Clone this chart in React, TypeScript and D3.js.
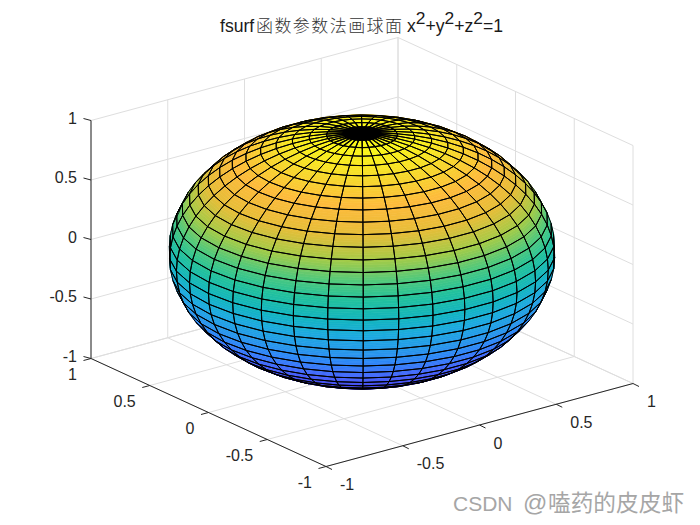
import React from 'react';
import * as d3 from 'd3';

// axis ticks, same on all three axes
const ticks = [-1, -0.5, 0, 0.5, 1];
const tickLabels = ['-1', '-0.5', '0', '0.5', '1'];

// parameter values of the mesh lines, in degrees
const longitudes = [
  0, 10.59, 21.18, 31.76, 42.35, 52.94, 63.53, 74.12, 84.71, 95.29, 105.88, 116.47,
  127.06, 137.65, 148.24, 158.82, 169.41, 180, 190.59, 201.18, 211.76, 222.35, 232.94,
  243.53, 254.12, 264.71, 275.29, 285.88, 296.47, 307.06, 317.65, 328.24, 338.82, 349.41, 360,
];
const latitudes = [
  -90, -84.71, -79.41, -74.12, -68.82, -63.53, -58.24, -52.94, -47.65, -42.35, -37.06,
  -31.76, -26.47, -21.18, -15.88, -10.59, -5.29, 0, 5.29, 10.59, 15.88, 21.18, 26.47,
  31.76, 37.06, 42.35, 47.65, 52.94, 58.24, 63.53, 68.82, 74.12, 79.41, 84.71, 90,
];

// parula
const colorStops = [0, 0.1, 0.2, 0.3, 0.35, 0.43, 0.5, 0.58, 0.65, 0.72, 0.8, 0.88, 0.94, 1];
const colorValues = [
  '#3e26a8', '#4741e5', '#4563fc', '#2d88f6', '#2796eb', '#1caadf', '#12b5bf', '#22c19c',
  '#52c97a', '#a3cb48', '#e6bd38', '#fdbb3c', '#f7d82d', '#f9fb15',
];

const width = 700;
const height = 525;

// screen offsets of one axis unit
const cx = 362;
const cy = 252;
const xToX = d3.scaleLinear().domain([-1, 1]).range([-153.5, 153.5]);
const xToY = d3.scaleLinear().domain([-1, 1]).range([41.5, -41.5]);
const yToX = d3.scaleLinear().domain([-1, 1]).range([117.5, -117.5]);
const yToY = d3.scaleLinear().domain([-1, 1]).range([54, -54]);
const zToY = d3.scaleLinear().domain([-1, 1]).range([119, -119]);

type P3 = [number, number, number];

const project = ([x, y, z]: P3): [number, number] => [
  cx + xToX(x) + yToX(y),
  cy + xToY(x) + yToY(y) + zToY(z),
];

const color = d3.scaleLinear<string>().domain(colorStops).range(colorValues).clamp(true);
const zToColor = d3.scaleLinear().domain([-1, 1]).range([0, 1]);

const view: P3 = [-0.527, -0.689, 0.496];
const rad = (d: number) => (d * Math.PI) / 180;
const spherePoint = (lon: number, lat: number): P3 => [
  Math.cos(rad(lat)) * Math.cos(rad(lon)),
  Math.cos(rad(lat)) * Math.sin(rad(lon)),
  Math.sin(rad(lat)),
];
const mix = (a: P3, b: P3, t: number): P3 => [
  a[0] + (b[0] - a[0]) * t,
  a[1] + (b[1] - a[1]) * t,
  a[2] + (b[2] - a[2]) * t,
];

const line3 = d3.line<P3>().x(d => project(d)[0]).y(d => project(d)[1]);
const closed = (pts: P3[]) => line3(pts) + 'Z';

// visible mesh cells
const cells: { corners: P3[]; depth: number; topLat: number }[] = [];
d3.pairs(longitudes).forEach(([lon0, lon1]) => {
  d3.pairs(latitudes).forEach(([lat0, lat1]) => {
    const corners = [
      spherePoint(lon0, lat0),
      spherePoint(lon1, lat0),
      spherePoint(lon1, lat1),
      spherePoint(lon0, lat1),
    ];
    const mid = spherePoint((lon0 + lon1) / 2, (lat0 + lat1) / 2);
    const depth = d3.sum(mid, (v, i) => v * view[i]);
    if (depth > -0.04) cells.push({ corners, depth, topLat: lat1 });
  });
});
cells.sort((a, b) => a.depth - b.depth);

const strips = [0, 0.2, 0.4, 0.6, 0.8];
const stripStep = 0.2;

const axisColor = '#262626';
const gridColor = '#dedede';
const labelFont = '"Liberation Sans", Arial, sans-serif';
const cjkFont = '"Noto Sans CJK SC", sans-serif';

const seg = (a: P3, b: P3, stroke: string, key: string) => (
  <path key={key} d={line3([a, b]) as string} stroke={stroke} strokeWidth={1} fill="none" />
);

const tickEnd = (p: [number, number], dx: number, dy: number): [number, number] => [p[0] + dx, p[1] + dy];

// the mesh closes up around the pole, so lines there run together
const meshWidth = (topLat: number) => (topLat === 90 ? 2.4 : topLat > 84 ? 1.2 : 1);

const App: React.FC = () => {
  return (
    <svg
      width={width}
      height={height}
      viewBox={`0 0 ${width} ${height}`}
      style={{ position: 'absolute', left: 0, top: 0, background: '#fff' }}
    >
      {/* back walls and floor */}
      <g>
        {ticks.map(t => (
          <g key={t}>
            {seg([t, 1, -1], [t, 1, 1], gridColor, 'a')}
            {seg([1, t, -1], [1, t, 1], gridColor, 'b')}
            {seg([-1, 1, t], [1, 1, t], gridColor, 'c')}
            {seg([1, -1, t], [1, 1, t], gridColor, 'd')}
            {seg([t, -1, -1], [t, 1, -1], gridColor, 'e')}
            {seg([-1, t, -1], [1, t, -1], gridColor, 'f')}
          </g>
        ))}
      </g>

      {/* sphere fill */}
      <g>
        {cells.map((c, i) =>
          strips.map(s => {
            const pts = [
              mix(c.corners[0], c.corners[3], s),
              mix(c.corners[1], c.corners[2], s),
              mix(c.corners[1], c.corners[2], s + stripStep),
              mix(c.corners[0], c.corners[3], s + stripStep),
            ];
            const fill = color(zToColor(d3.mean(pts, d => d[2]) as number));
            return <path key={`${i}-${s}`} d={closed(pts)} fill={fill} stroke={fill} strokeWidth={0.7} />;
          })
        )}
      </g>

      {/* sphere mesh */}
      <g fill="none" stroke="#000">
        {cells.map((c, i) => (
          <path key={i} d={closed(c.corners)} strokeWidth={meshWidth(c.topLat)} />
        ))}
      </g>

      {/* axes */}
      <g>
        {seg([-1, 1, -1], [-1, 1, 1], axisColor, 'zaxis')}
        {seg([-1, -1, -1], [-1, 1, -1], axisColor, 'yaxis')}
        {seg([-1, -1, -1], [1, -1, -1], axisColor, 'xaxis')}
        {ticks.map(t => {
          const zp = project([-1, 1, t]);
          const yp = project([-1, t, -1]);
          const xp = project([t, -1, -1]);
          const ze = tickEnd(zp, -7.5, -2);
          const ye = tickEnd(yp, -7.5, 2);
          const xe = tickEnd(xp, 6, 3);
          return (
            <g key={t} stroke={axisColor} strokeWidth={1}>
              <line x1={zp[0]} y1={zp[1]} x2={ze[0]} y2={ze[1]} />
              <line x1={yp[0]} y1={yp[1]} x2={ye[0]} y2={ye[1]} />
              <line x1={xp[0]} y1={xp[1]} x2={xe[0]} y2={xe[1]} />
            </g>
          );
        })}
      </g>

      {/* tick labels */}
      <g fill={axisColor} fontFamily={labelFont} fontSize={16}>
        {ticks.map((t, i) => {
          const zp = project([-1, 1, t]);
          const yp = project([-1, t, -1]);
          const xp = project([t, -1, -1]);
          return (
            <g key={t}>
              <text x={zp[0] - 14} y={zp[1] + 3} textAnchor="end">{tickLabels[i]}</text>
              <text x={yp[0] - 14} y={yp[1] + 21.5} textAnchor="end">{tickLabels[i]}</text>
              <text x={xp[0] + 14} y={xp[1] + 23.5} textAnchor="start">{tickLabels[i]}</text>
            </g>
          );
        })}
      </g>

      {/* title */}
      <text x={220} y={31.5} fill="#1a1a1a" fontFamily={labelFont} fontSize={17.6}>
        fsurf
        <tspan x={256} fontFamily={cjkFont} fontSize={17} fontWeight={300} textLength={146} fill="#333">函数参数法画球面</tspan>
        <tspan x={407}>x</tspan>
        <tspan dy={-8} fontSize={17.4}>2</tspan>
        <tspan dy={8}>+y</tspan>
        <tspan dy={-8} fontSize={17.4}>2</tspan>
        <tspan dy={8}>+z</tspan>
        <tspan dy={-8} fontSize={17.4}>2</tspan>
        <tspan dy={8}>=1</tspan>
      </text>

      {/* watermark */}
      <text x={453} y={511} fill="#a6a6a6" fontFamily={labelFont} fontSize={21}>
        CSDN <tspan x={523} fontSize={24}>@</tspan>
        <tspan x={548} fontFamily={cjkFont} fontSize={22.7}>嗑药的皮皮虾</tspan>
      </text>
    </svg>
  );
};

export default App;
